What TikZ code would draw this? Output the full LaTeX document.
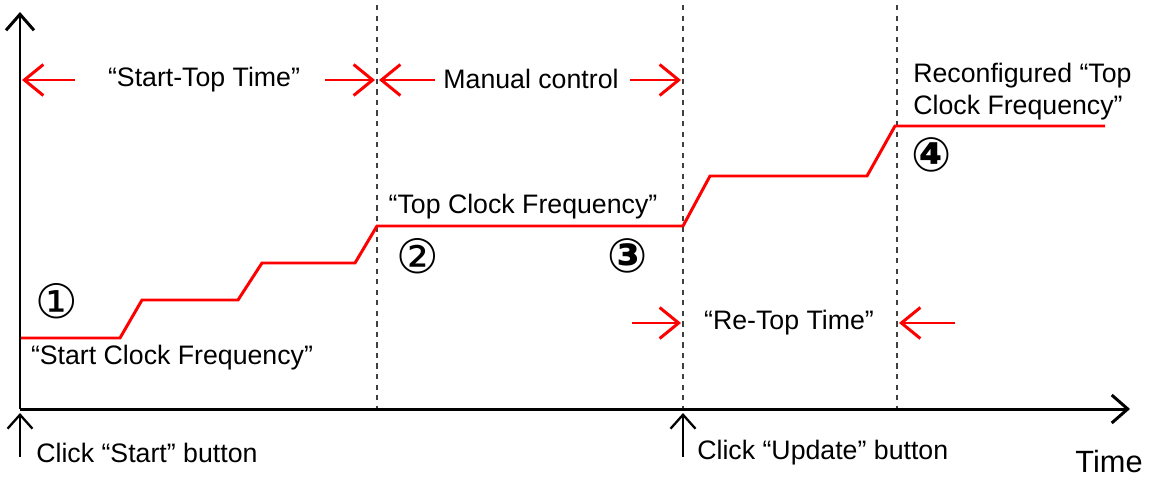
\documentclass[tikz,border=0pt]{standalone}
\usepackage{fontspec}
\setmainfont{Liberation Sans}
\newfontfamily\circfont{DejaVu Sans}
\usetikzlibrary{arrows.meta}

\begin{document}
\begin{tikzpicture} [
    x=0.02cm, y=-0.02cm,
    caption/.style  = { font=\fontsize{15.2}{18.3}\selectfont, inner sep=0pt },
    num/.style      = { font=\circfont\fontsize{27}{30}\selectfont, inner sep=0pt },
    boldnum/.style  = { font=\circfont\bfseries\fontsize{27}{30}\selectfont, inner sep=0pt },
    axis/.style     = { draw, line width=1.7pt,
                        -{Straight Barb[length=3.2mm,width=5.6mm]} },
    click/.style    = { draw, line width=1.3pt,
                        -{Straight Barb[length=2.8mm,width=5mm]} },
    span/.style     = { draw=red, line width=1.7pt,
                        -{Straight Barb[length=3.8mm,width=6.2mm]} },
    guide/.style    = { draw=black!75, dash pattern=on 3pt off 3pt, line width=0.6pt },
    freq/.style     = { draw=red, line width=1.7pt },
  ]
  \useasboundingbox (0,0) rectangle (1156,477);

  % Define coordinates
  \coordinate (origin) at (20,409);
  \coordinate (yend)   at (20,12);
  \coordinate (xend)   at (1130,409);
  \coordinate (top1)   at (377,5);   \coordinate (bot1) at (377,409);
  \coordinate (top2)   at (683,5);   \coordinate (bot2) at (683,409);
  \coordinate (top3)   at (897,5);   \coordinate (bot3) at (897,409);

  % Define nodes
  \node[caption] (startTop)    at (204,80)  {“Start-Top Time”};
  \node[caption] (manual)      at (531,79)  {Manual control};
  \node[caption, anchor=west, align=left] (reconf) at (913,92)
        {Reconfigured “Top\\Clock Frequency”};
  \node[caption] (topFreq)     at (523,207) {“Top Clock Frequency”};
  \node[caption] (startFreq)   at (172,358) {“Start Clock Frequency”};
  \node[caption] (reTop)       at (789,323) {“Re-Top Time”};
  \node[caption, anchor=west] (clickStart)  at (36,453)  {Click “Start” button};
  \node[caption, anchor=west] (clickUpdate) at (697,453) {Click “Update” button};
  \node[font=\fontsize{17.5}{20}\selectfont, inner sep=0pt] (timeLbl) at (1109,462) {Time};

  \node[num] (n1) at (57,301)  {①};
  \node[num] (n2) at (418,256) {②};
  \node[boldnum] (n3) at (628,256) {③};
  \node[boldnum] (n4) at (932,155) {④};

  % arrow tails
  \coordinate (a1) at (75,80);   \coordinate (a1e) at (22,80);
  \coordinate (a2) at (325,80);  \coordinate (a2e) at (375,80);
  \coordinate (a3) at (435,80);  \coordinate (a3e) at (379,80);
  \coordinate (a4) at (630,80);  \coordinate (a4e) at (681,80);
  \coordinate (a5) at (632,323); \coordinate (a5e) at (681,323);
  \coordinate (a6) at (955,323); \coordinate (a6e) at (899,323);
  \coordinate (c1) at (20,457);  \coordinate (c1e) at (20,413);
  \coordinate (c2) at (683,457); \coordinate (c2e) at (683,413);

  % dashed guides
  \path [guide] (top1) -- (bot1);
  \path [guide] (top2) -- (bot2);
  \path [guide] (top3) -- (bot3);

  % clock frequency
  \path [freq] (20,338) -- (120,338) -- (142,300) -- (238,300) -- (262,263)
        -- (355,263) -- (377,226) -- (683,226) -- (710,176) -- (867,176)
        -- (895,126) -- (1105,126);

  % axes
  \path [axis] (origin) -- (yend);
  \path [axis] (origin) -- (xend);

  % connect the nodes
  \path [span] (a1) -- (a1e);
  \path [span] (a2) -- (a2e);
  \path [span] (a3) -- (a3e);
  \path [span] (a4) -- (a4e);
  \path [span] (a5) -- (a5e);
  \path [span] (a6) -- (a6e);
  \path [click] (c1) -- (c1e);
  \path [click] (c2) -- (c2e);
\end{tikzpicture}
\end{document}
